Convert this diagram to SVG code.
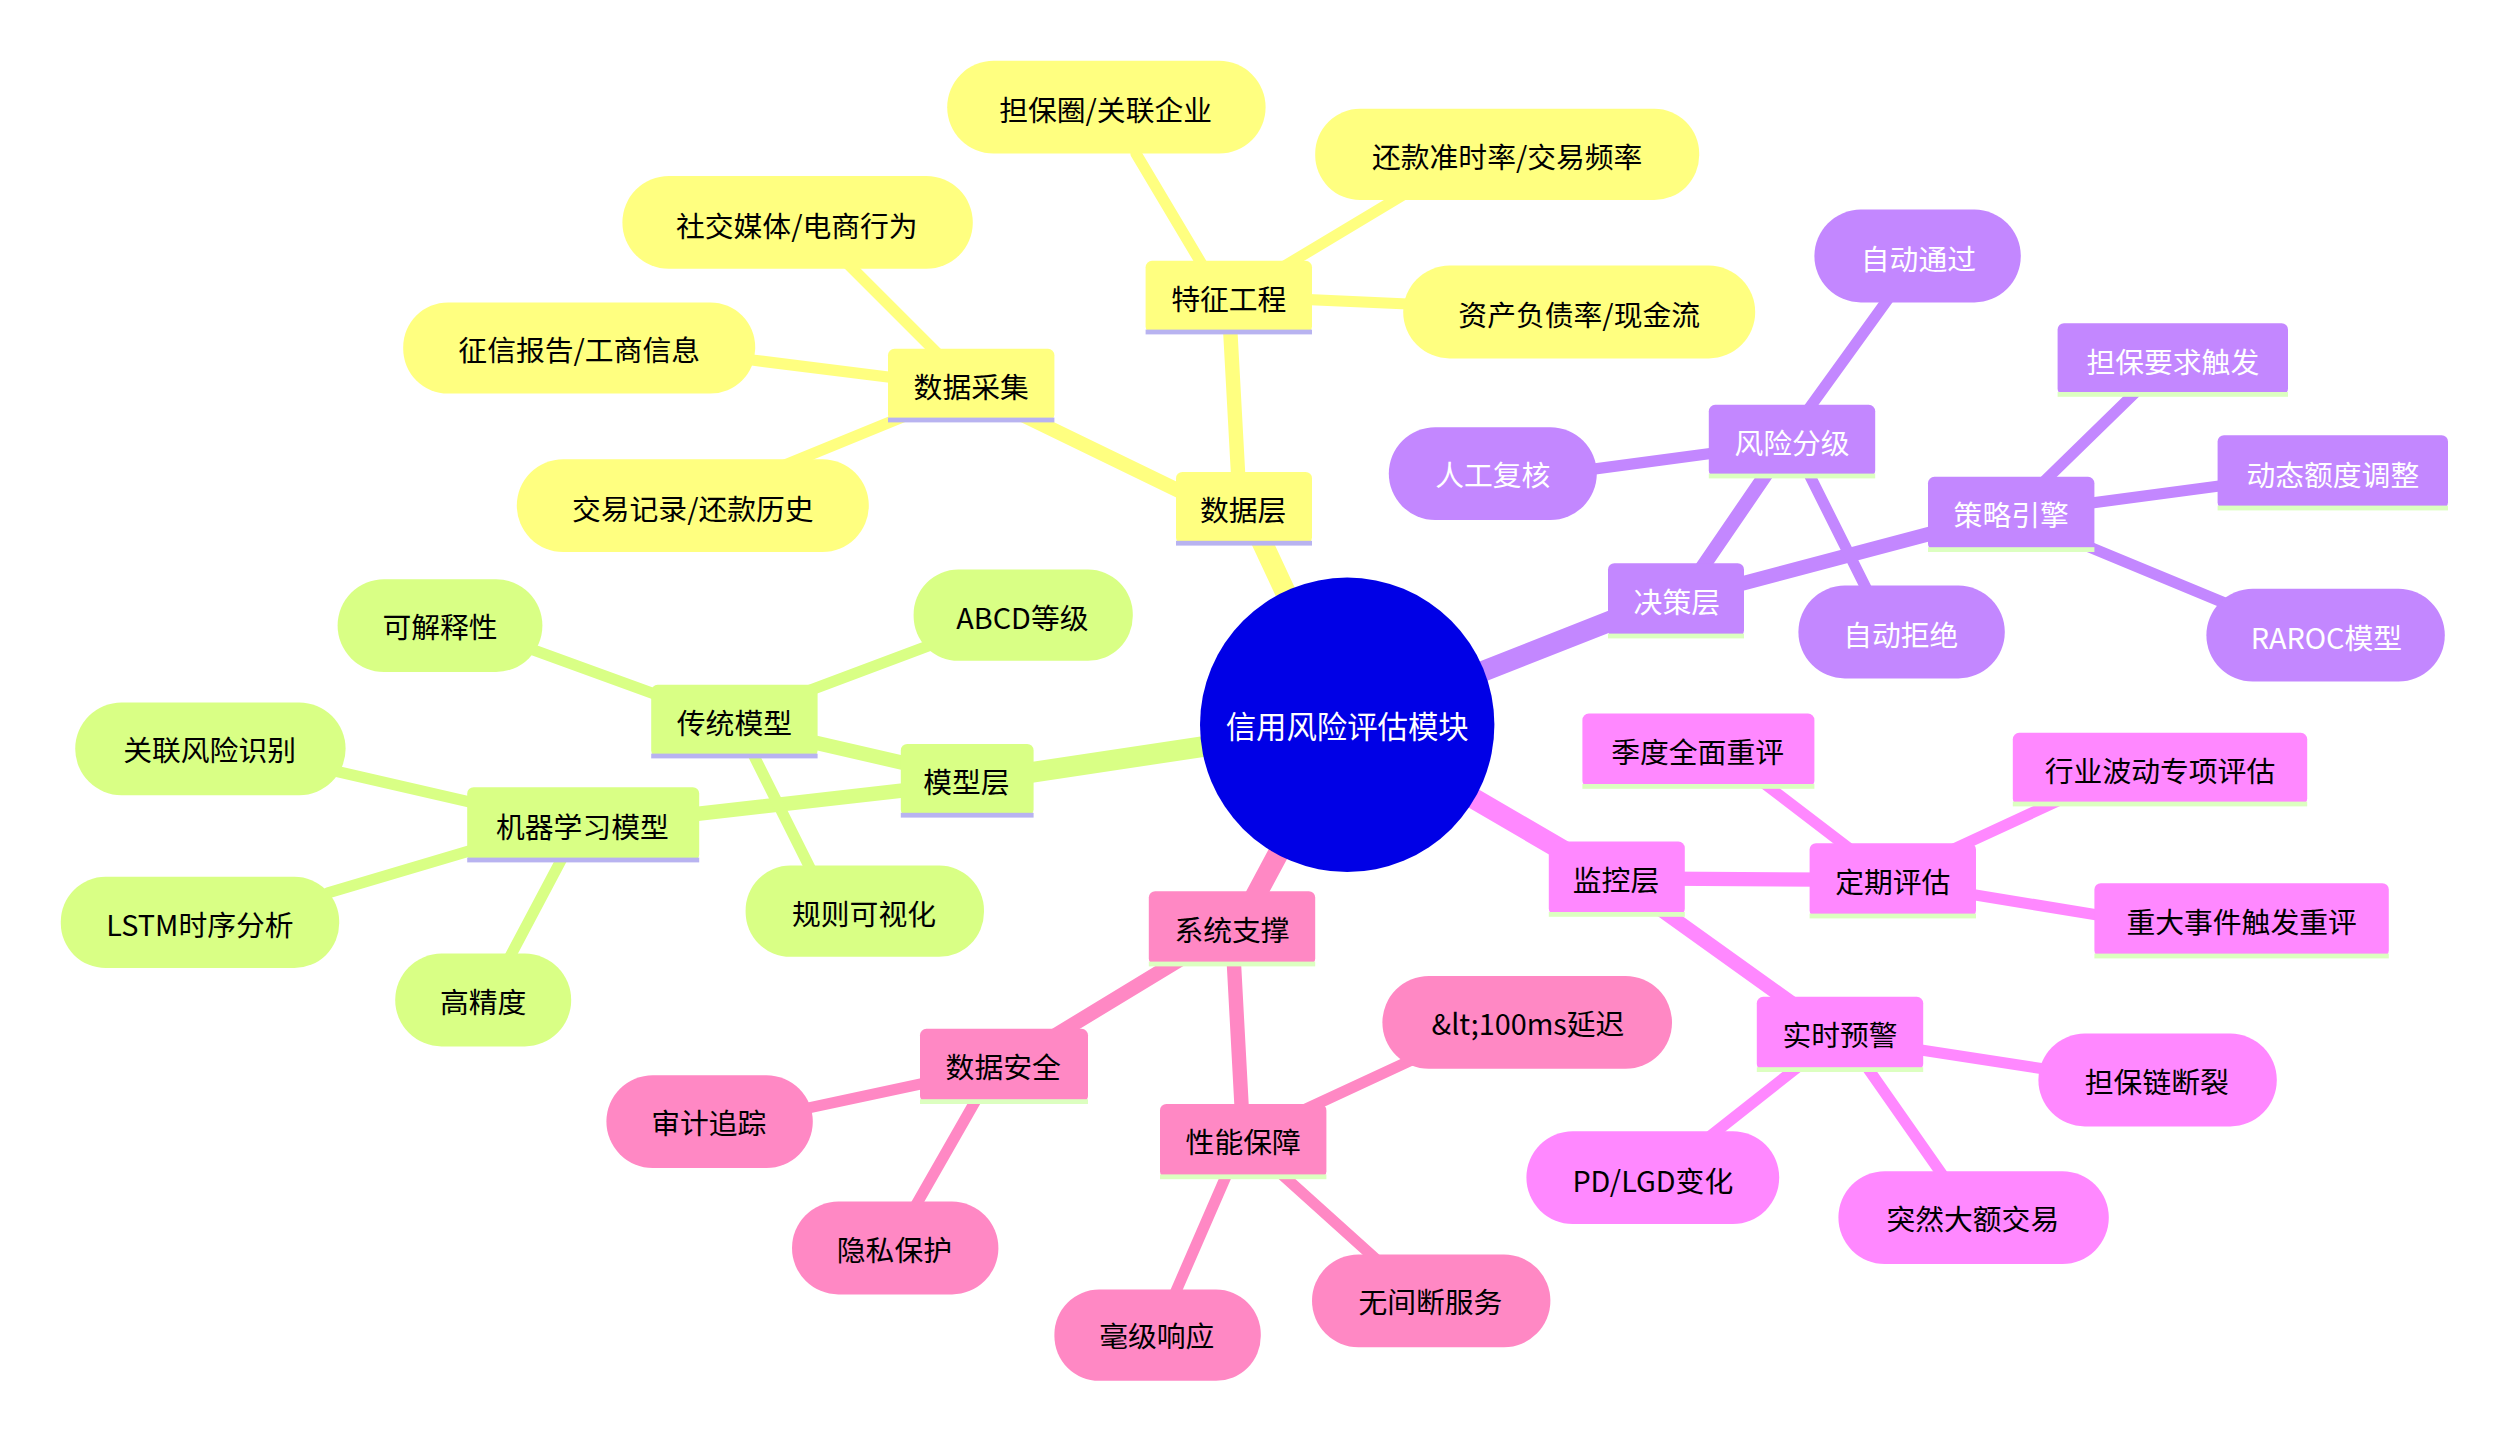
<svg xmlns="http://www.w3.org/2000/svg" width="2509" height="1442" viewBox="0 0 2509 1442">
<style>
text{font-family:"Noto Sans CJK SC","Noto Sans",sans-serif;font-size:18px;text-anchor:middle;dominant-baseline:central;fill:#000}
.y{fill:#ffff80}.g{fill:#d9ff85}.p{fill:#c387ff}.k{fill:#ff88ff}.r{fill:#ff88c4}
.ul1{fill:#b8b3f0}.ul2{fill:#dcffc0}
.w{fill:#fff}
#edges line{stroke-linecap:round}
.ey{stroke:#ffff80}.eg{stroke:#d9ff85}.ep{stroke:#c387ff}.ek{stroke:#ff88ff}.er{stroke:#ff88c4}
.l1{stroke-width:13}.l2{stroke-width:9}.l3{stroke-width:7}
</style>
<rect width="2509" height="1442" fill="#fff"/>
<g transform="scale(1.6)">
<g id="edges">
<line class="ey l1" x1="842" y1="453" x2="780" y2="320"/>
<line class="ey l2" x1="760" y1="318" x2="620" y2="250"/>
<line class="ey l2" x1="775" y1="318" x2="768" y2="190"/>
<line class="ey l3" x1="600" y1="235" x2="530" y2="165"/>
<line class="ey l3" x1="590" y1="240" x2="470" y2="225"/>
<line class="ey l3" x1="590" y1="250" x2="480" y2="295"/>
<line class="ey l3" x1="760" y1="180" x2="710" y2="96"/>
<line class="ey l3" x1="780" y1="180" x2="880" y2="120"/>
<line class="ey l3" x1="790" y1="186" x2="880" y2="190"/>
<line class="eg l1" x1="842" y1="453" x2="610" y2="488"/>
<line class="eg l2" x1="600" y1="485" x2="470" y2="455"/>
<line class="eg l2" x1="600" y1="490" x2="380" y2="515"/>
<line class="eg l3" x1="440" y1="445" x2="330" y2="405"/>
<line class="eg l3" x1="470" y1="445" x2="590" y2="400"/>
<line class="eg l3" x1="465" y1="460" x2="510" y2="550"/>
<line class="eg l3" x1="340" y1="512" x2="210" y2="482"/>
<line class="eg l3" x1="340" y1="518" x2="205" y2="558"/>
<line class="eg l3" x1="360" y1="520" x2="315" y2="605"/>
<line class="ep l1" x1="842" y1="453" x2="1040" y2="375"/>
<line class="ep l2" x1="1050" y1="375" x2="1115" y2="280"/>
<line class="ep l2" x1="1050" y1="375" x2="1250" y2="322"/>
<line class="ep l3" x1="1120" y1="270" x2="1185" y2="180"/>
<line class="ep l3" x1="1110" y1="278" x2="990" y2="294"/>
<line class="ep l3" x1="1125" y1="285" x2="1170" y2="375"/>
<line class="ep l3" x1="1260" y1="318" x2="1340" y2="240"/>
<line class="ep l3" x1="1265" y1="320" x2="1400" y2="302"/>
<line class="ep l3" x1="1265" y1="325" x2="1410" y2="385"/>
<line class="ek l1" x1="842" y1="453" x2="1005" y2="548"/>
<line class="ek l2" x1="1015" y1="549" x2="1180" y2="550"/>
<line class="ek l2" x1="1015" y1="552" x2="1145" y2="645"/>
<line class="ek l3" x1="1175" y1="545" x2="1090" y2="480"/>
<line class="ek l3" x1="1190" y1="545" x2="1320" y2="485"/>
<line class="ek l3" x1="1190" y1="552" x2="1330" y2="575"/>
<line class="ek l3" x1="1160" y1="650" x2="1290" y2="670"/>
<line class="ek l3" x1="1145" y1="650" x2="1050" y2="725"/>
<line class="ek l3" x1="1155" y1="650" x2="1225" y2="750"/>
<line class="er l1" x1="842" y1="453" x2="775" y2="578"/>
<line class="er l2" x1="770" y1="580" x2="630" y2="665"/>
<line class="er l2" x1="770" y1="580" x2="777" y2="710"/>
<line class="er l3" x1="620" y1="668" x2="470" y2="700"/>
<line class="er l3" x1="620" y1="670" x2="560" y2="775"/>
<line class="er l3" x1="780" y1="710" x2="920" y2="645"/>
<line class="er l3" x1="775" y1="715" x2="725" y2="830"/>
<line class="er l3" x1="780" y1="715" x2="880" y2="805"/>
</g>
<g id="root"><ellipse cx="842" cy="453" rx="92" ry="92" fill="#0000e6"/><text x="842" y="453" class="w" style="font-size:19px">信用风险评估模块</text></g>
<g id="n-sjc"><rect x="735" y="295" width="85" height="45" rx="4" class="y"/><rect x="735" y="338" width="85" height="3" class="ul1"/><text x="777" y="318">数据层</text></g>
<g id="n-sjcj"><rect x="555" y="218" width="104" height="45" rx="4" class="y"/><rect x="555" y="261" width="104" height="3" class="ul1"/><text x="607" y="241">数据采集</text></g>
<g id="n-tzgc"><rect x="716" y="163" width="104" height="45" rx="4" class="y"/><rect x="716" y="206" width="104" height="3" class="ul1"/><text x="768" y="186">特征工程</text></g>
<g id="n-sj1"><rect x="389" y="110" width="219" height="58" rx="29" class="y"/><text x="498" y="140">社交媒体/电商行为</text></g>
<g id="n-sj2"><rect x="252" y="189" width="220" height="57" rx="28" class="y"/><text x="362" y="218">征信报告/工商信息</text></g>
<g id="n-sj3"><rect x="323" y="287" width="220" height="58" rx="29" class="y"/><text x="433" y="317">交易记录/还款历史</text></g>
<g id="n-tz1"><rect x="592" y="38" width="199" height="58" rx="29" class="y"/><text x="691" y="68">担保圈/关联企业</text></g>
<g id="n-tz2"><rect x="822" y="68" width="240" height="57" rx="28" class="y"/><text x="942" y="97">还款准时率/交易频率</text></g>
<g id="n-tz3"><rect x="877" y="166" width="220" height="58" rx="29" class="y"/><text x="987" y="196">资产负债率/现金流</text></g>

<g id="n-mxc"><rect x="563" y="465" width="83" height="45" rx="4" class="g"/><rect x="563" y="508" width="83" height="3" class="ul1"/><text x="604" y="488">模型层</text></g>
<g id="n-ctmx"><rect x="407" y="428" width="104" height="45" rx="4" class="g"/><rect x="407" y="471" width="104" height="3" class="ul1"/><text x="459" y="451">传统模型</text></g>
<g id="n-jqxx"><rect x="292" y="492" width="145" height="46" rx="4" class="g"/><rect x="292" y="536" width="145" height="3" class="ul1"/><text x="364" y="516">机器学习模型</text></g>
<g id="n-m1"><rect x="211" y="362" width="128" height="58" rx="29" class="g"/><text x="275" y="391">可解释性</text></g>
<g id="n-m2"><rect x="571" y="356" width="137" height="57" rx="28" class="g"/><text x="639" y="385">ABCD等级</text></g>
<g id="n-m3"><rect x="466" y="541" width="149" height="57" rx="28" class="g"/><text x="540" y="570">规则可视化</text></g>
<g id="n-m4"><rect x="47" y="439" width="169" height="58" rx="29" class="g"/><text x="131" y="468">关联风险识别</text></g>
<g id="n-m5"><rect x="38" y="548" width="174" height="57" rx="28" class="g"/><text x="125" y="577">LSTM时序分析</text></g>
<g id="n-m6"><rect x="247" y="596" width="110" height="58" rx="29" class="g"/><text x="302" y="625">高精度</text></g>

<g id="n-jcc"><rect x="1005" y="352" width="85" height="46" rx="4" class="p"/><rect x="1005" y="396" width="85" height="3" class="ul2"/><text x="1048" y="375" class="w">决策层</text></g>
<g id="n-fxfj"><rect x="1068" y="253" width="104" height="45" rx="4" class="p"/><rect x="1068" y="296" width="104" height="3" class="ul2"/><text x="1120" y="276" class="w">风险分级</text></g>
<g id="n-clyq"><rect x="1205" y="298" width="104" height="46" rx="4" class="p"/><rect x="1205" y="342" width="104" height="3" class="ul2"/><text x="1257" y="321" class="w">策略引擎</text></g>
<g id="n-d1"><rect x="1134" y="131" width="129" height="58" rx="29" class="p"/><text x="1199" y="161" class="w">自动通过</text></g>
<g id="n-d2"><rect x="868" y="267" width="130" height="58" rx="29" class="p"/><text x="933" y="296" class="w">人工复核</text></g>
<g id="n-d3"><rect x="1124" y="366" width="129" height="58" rx="29" class="p"/><text x="1188" y="396" class="w">自动拒绝</text></g>
<g id="n-d4"><rect x="1286" y="202" width="144" height="45" rx="4" class="p"/><rect x="1286" y="245" width="144" height="3" class="ul2"/><text x="1358" y="225" class="w">担保要求触发</text></g>
<g id="n-d5"><rect x="1386" y="272" width="144" height="46" rx="4" class="p"/><rect x="1386" y="316" width="144" height="3" class="ul2"/><text x="1458" y="296" class="w">动态额度调整</text></g>
<g id="n-d6"><rect x="1379" y="368" width="149" height="58" rx="29" class="p"/><text x="1454" y="398" class="w">RAROC模型</text></g>

<g id="n-jkc"><rect x="968" y="526" width="85" height="46" rx="4" class="k"/><rect x="968" y="570" width="85" height="3" class="ul2"/><text x="1010" y="549">监控层</text></g>
<g id="n-dqpg"><rect x="1131" y="527" width="104" height="46" rx="4" class="k"/><rect x="1131" y="571" width="104" height="3" class="ul2"/><text x="1183" y="550">定期评估</text></g>
<g id="n-ssyj"><rect x="1098" y="623" width="104" height="46" rx="4" class="k"/><rect x="1098" y="667" width="104" height="3" class="ul2"/><text x="1150" y="646">实时预警</text></g>
<g id="n-k1"><rect x="989" y="446" width="145" height="46" rx="4" class="k"/><rect x="989" y="490" width="145" height="3" class="ul2"/><text x="1061" y="469">季度全面重评</text></g>
<g id="n-k2"><rect x="1258" y="458" width="184" height="45" rx="4" class="k"/><rect x="1258" y="501" width="184" height="3" class="ul2"/><text x="1350" y="481">行业波动专项评估</text></g>
<g id="n-k3"><rect x="1309" y="552" width="184" height="46" rx="4" class="k"/><rect x="1309" y="596" width="184" height="3" class="ul2"/><text x="1401" y="575">重大事件触发重评</text></g>
<g id="n-k4"><rect x="1274" y="646" width="149" height="58" rx="29" class="k"/><text x="1348" y="675">担保链断裂</text></g>
<g id="n-k5"><rect x="954" y="707" width="158" height="58" rx="29" class="k"/><text x="1033" y="737">PD/LGD变化</text></g>
<g id="n-k6"><rect x="1149" y="732" width="169" height="58" rx="29" class="k"/><text x="1233" y="761">突然大额交易</text></g>

<g id="n-xtzc"><rect x="718" y="557" width="104" height="46" rx="4" class="r"/><rect x="718" y="601" width="104" height="3" class="ul2"/><text x="770" y="580">系统支撑</text></g>
<g id="n-sjaq"><rect x="575" y="643" width="105" height="46" rx="4" class="r"/><rect x="575" y="687" width="105" height="3" class="ul2"/><text x="627" y="666">数据安全</text></g>
<g id="n-xnbz"><rect x="725" y="690" width="104" height="46" rx="4" class="r"/><rect x="725" y="734" width="104" height="3" class="ul2"/><text x="777" y="713">性能保障</text></g>
<g id="n-r1"><rect x="379" y="672" width="129" height="58" rx="29" class="r"/><text x="443" y="701">审计追踪</text></g>
<g id="n-r2"><rect x="495" y="751" width="129" height="58" rx="29" class="r"/><text x="559" y="780">隐私保护</text></g>
<g id="n-r3"><rect x="864" y="610" width="181" height="58" rx="29" class="r"/><text x="955" y="639">&amp;lt;100ms延迟</text></g>
<g id="n-r4"><rect x="659" y="806" width="129" height="57" rx="28" class="r"/><text x="723" y="834">毫级响应</text></g>
<g id="n-r5"><rect x="820" y="784" width="149" height="58" rx="29" class="r"/><text x="894" y="813">无间断服务</text></g>
</g>
</svg>
